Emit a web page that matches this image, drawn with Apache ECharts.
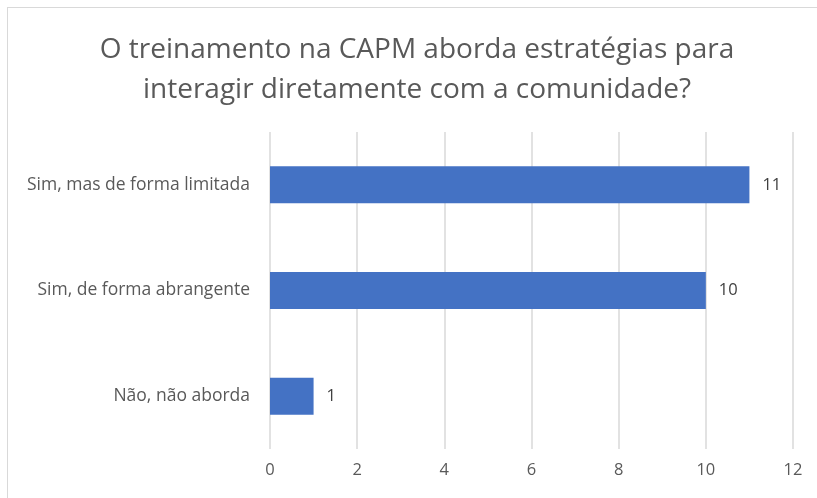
<!DOCTYPE html>
<html><head><meta charset="utf-8">
<script src="https://cdn.jsdelivr.net/npm/echarts@6/dist/echarts.min.js"></script>
<style>html,body{margin:0;padding:0;background:#fff}#c{width:817px;height:498px}
#frame{position:absolute;left:7px;top:7px;width:830px;height:520px;border:1px solid #d9d9d9;box-sizing:border-box;pointer-events:none}</style>
</head><body><div id="c"></div><div id="frame"></div>
<script>
const titleText = "O treinamento na CAPM aborda estratégias para\ninteragir diretamente com a comunidade?";
const categories = ["Não, não aborda", "Sim, de forma abrangente", "Sim, mas de forma limitada"];
const values = [1, 10, 11];
const xTicks = { min: 0, max: 12, interval: 2 };
const font = "'Open Sans', sans-serif";
const chart = echarts.init(document.getElementById('c'));
chart.setOption({
  animation: false,
  title: { text: titleText, left: 412, top: 25, textAlign: 'center',
    textStyle: { fontFamily: font, fontSize: 28, fontWeight: 'normal', color: '#595959', lineHeight: 40 } },
  grid: { left: 270, right: 24, top: 132, bottom: 49, containLabel: false },
  xAxis: { type: 'value', min: xTicks.min, max: xTicks.max, interval: xTicks.interval,
    axisLine: { show: false }, axisTick: { show: false },
    splitLine: { lineStyle: { color: '#d9d9d9', width: 1.5 } },
    axisLabel: { fontFamily: font, fontSize: 16.5, color: '#595959', margin: 13 } },
  yAxis: { type: 'category', data: categories,
    axisLine: { show: false }, axisTick: { show: false },
    axisLabel: { fontFamily: font, fontSize: 17.5, color: '#595959', margin: 20 } },
  series: [{ type: 'bar', data: values, barCategoryGap: '65%',
    itemStyle: { color: '#4472C4' },
    label: { show: true, position: 'right', distance: 13, fontFamily: font, fontSize: 16.5, color: '#404040' } }]
});
</script></body></html>
